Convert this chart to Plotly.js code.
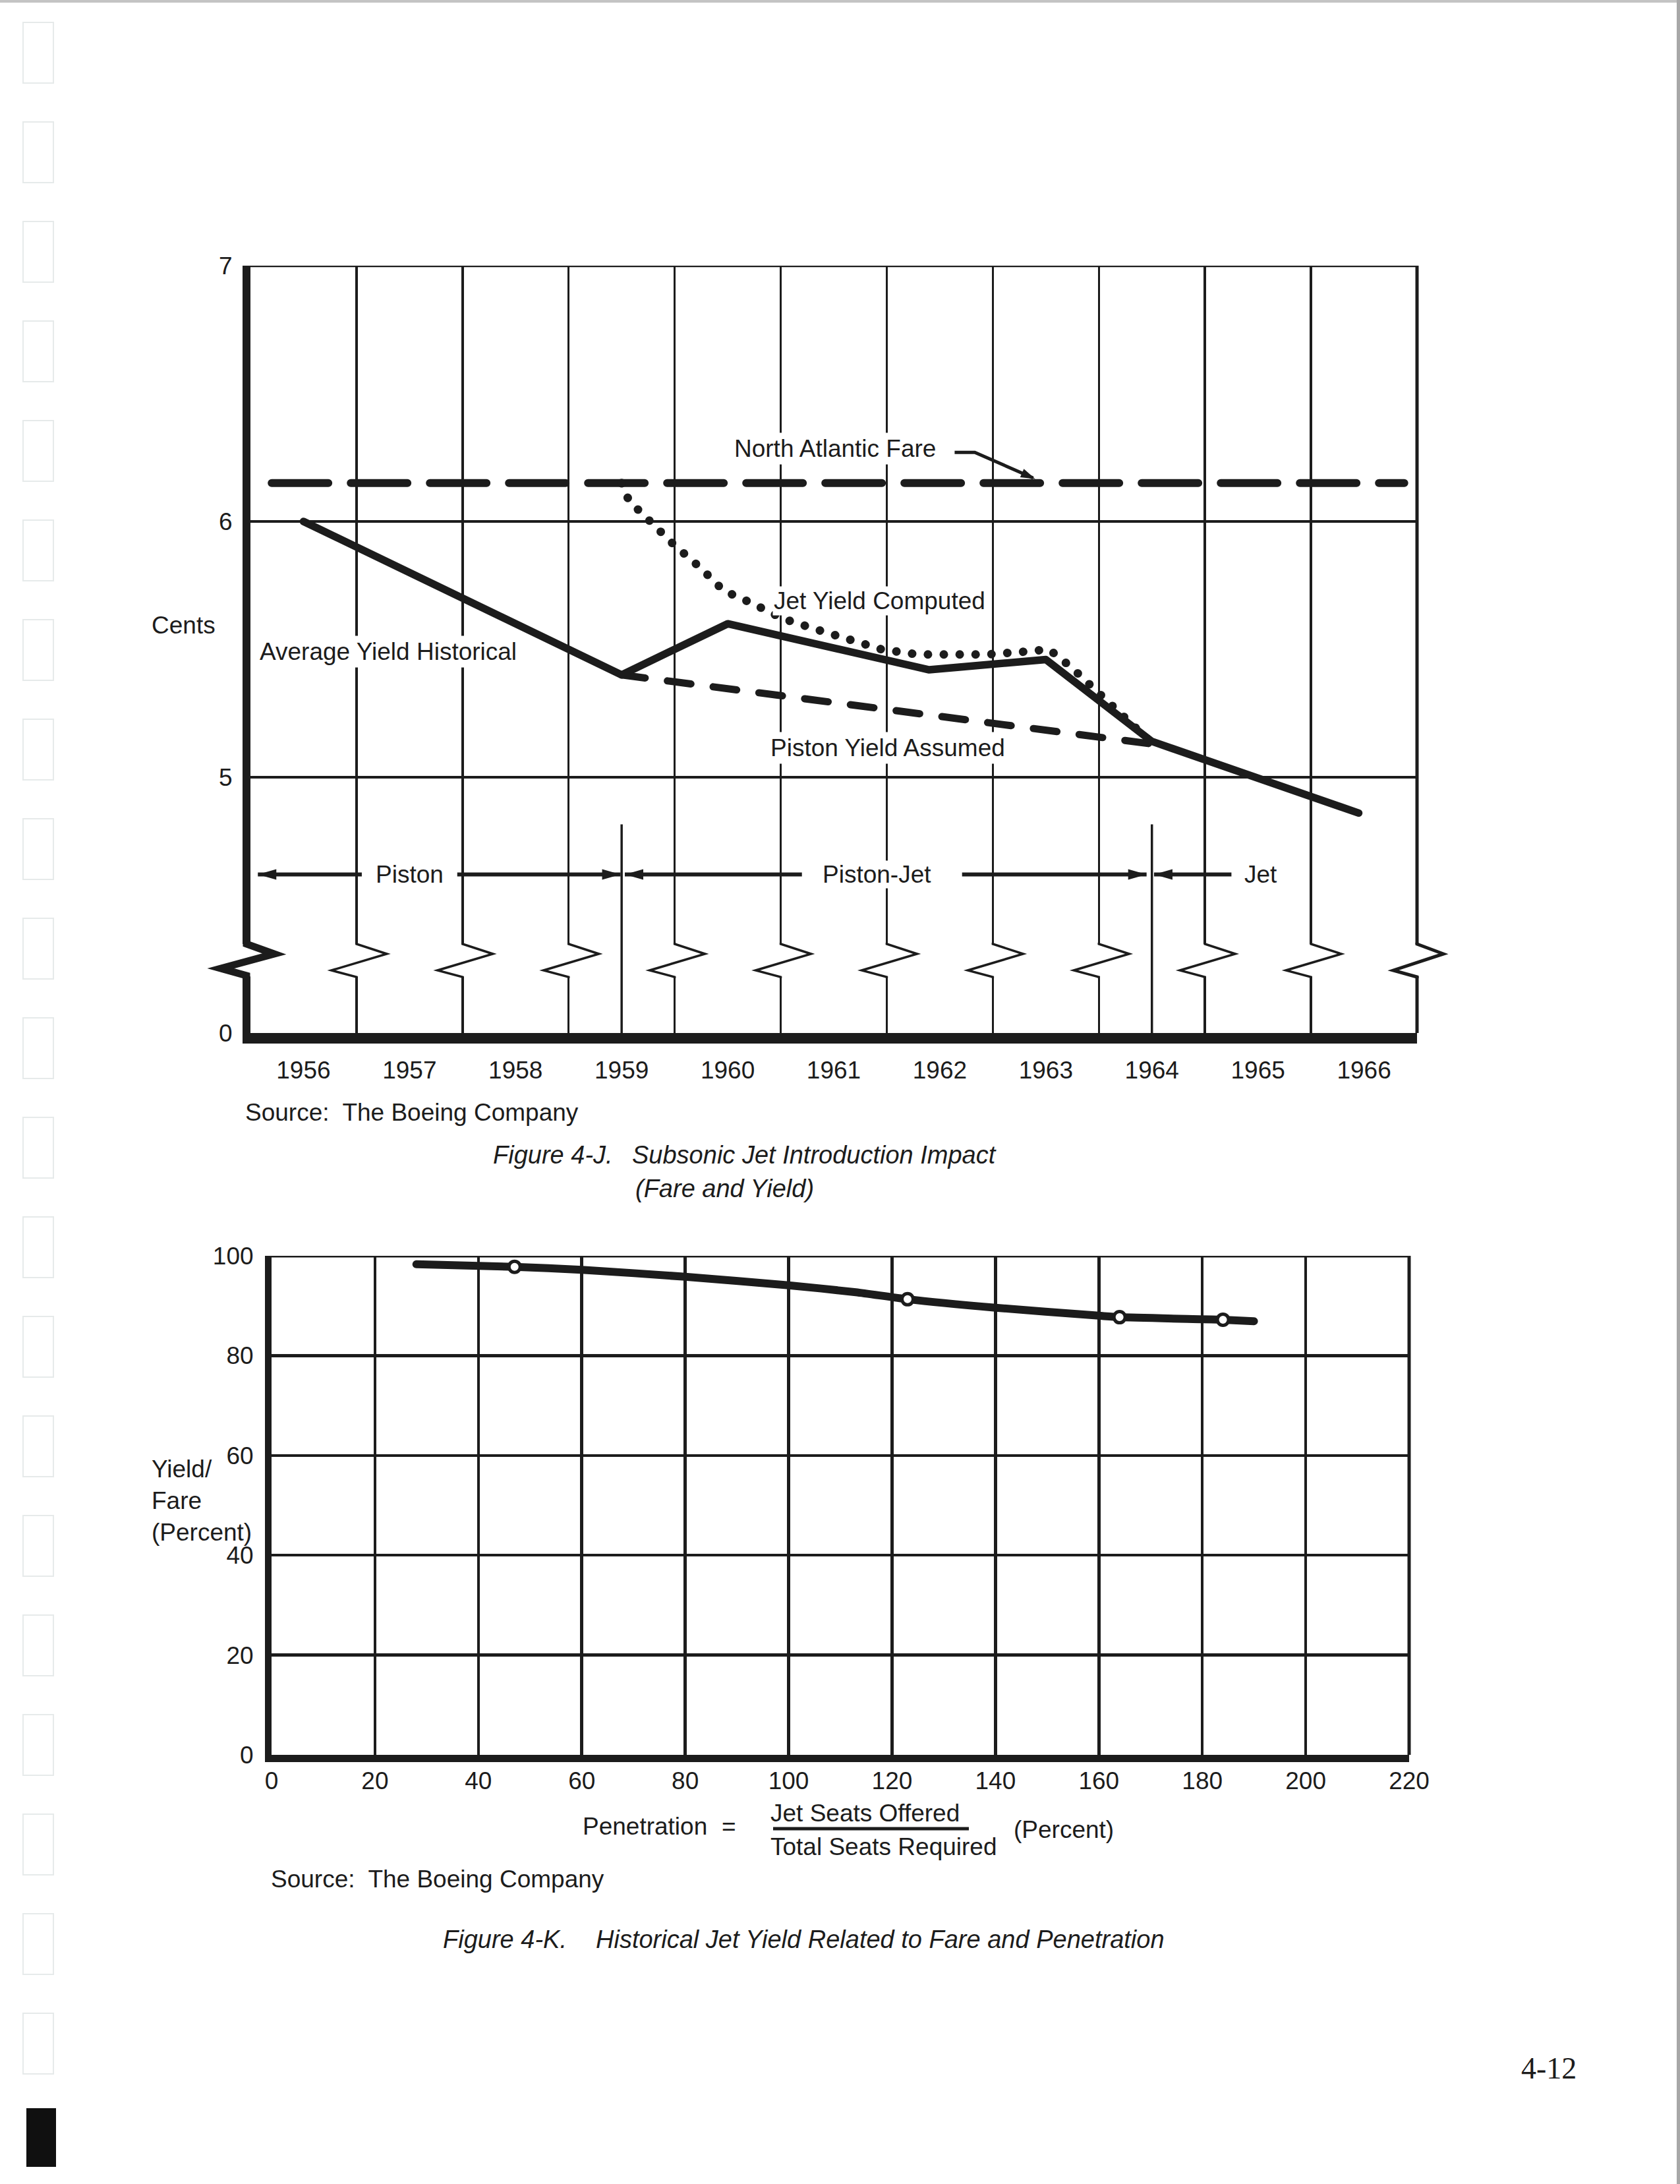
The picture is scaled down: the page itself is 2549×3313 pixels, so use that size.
<!DOCTYPE html>
<html>
<head>
<meta charset="utf-8">
<script src="https://cdn.plot.ly/plotly-3.0.1.min.js"></script>
<style>
html, body { margin:0; padding:0; background:#ffffff; }
#chart { width:2549px; height:3313px; }
.scatterlayer .js-line { stroke-linecap: round; stroke-linejoin: round; }
</style>
</head>
<body>
<div id="chart"></div>
<script>
// ================= Figure 4-J : Subsonic Jet Introduction Impact =================
const years = [1956, 1957, 1958, 1959, 1960, 1961, 1962, 1963, 1964, 1965, 1966];
const yearLabels = ['1956', '1957', '1958', '1959', '1960', '1961', '1962', '1963', '1964', '1965', '1966'];
// broken cents axis: the value 4 on the scale carries the "0" label
const centsTickVals = [4, 5, 6, 7];
const centsTickText = ['0', '5', '6', '7'];

const fareYears = [1955.7, 1966.38];
const fareCents = [6.15, 6.15];

const avgYieldYears = [1956.0, 1959.0, 1960.0, 1961.9, 1963.0, 1964.0, 1965.95];
const avgYieldCents = [6.00, 5.40, 5.60, 5.42, 5.46, 5.14, 4.86];

const pistonYears = [1959.0, 1964.0];
const pistonCents = [5.40, 5.13];

const jetYears = [1959.0, 1959.07, 1959.27, 1959.49, 1959.74, 1959.96, 1960.23, 1960.52, 1960.82,
                  1961.14, 1961.45, 1961.79, 1962.14, 1962.45, 1962.77, 1963.03, 1963.24, 1963.55, 1963.97];
const jetCents = [6.15, 6.08, 6.00, 5.91, 5.82, 5.73, 5.68, 5.62, 5.58,
                  5.535, 5.50, 5.48, 5.478, 5.48, 5.49, 5.50, 5.43, 5.31, 5.145];

const periodNames = ['Piston', 'Piston-Jet', 'Jet'];
const periodBreaks = [1959, 1964];

// ================= Figure 4-K : Historical Jet Yield vs Penetration =================
const penetration = [28, 47, 60, 80, 100, 113, 123, 140, 160, 164, 180, 184, 190];
const yieldFare = [98.3, 97.8, 97.2, 95.8, 94.1, 92.7, 91.3, 89.6, 88.0, 87.7, 87.3, 87.2, 86.9];
const samplePenetration = [47, 123, 164, 184];
const sampleYieldFare = [97.8, 91.3, 87.7, 87.2];
const penetrationTicks = [0, 20, 40, 60, 80, 100, 120, 140, 160, 180, 200, 220];
const yieldTicks = [0, 20, 40, 60, 80, 100];

// ---------------- layout helpers ----------------
const W = 2549, H = 3313;
const px = x => x / W;
const py = y => 1 - y / H;
const ink = '#1c1c1c';
const FONT = 'Liberation Sans, Arial, Helvetica, sans-serif';

const traces = [
  {x: fareYears, y: fareCents, xaxis: 'x', yaxis: 'y', mode: 'lines',
   line: {color: ink, width: 12, dash: '86px,34px'}, hoverinfo: 'skip'},
  {x: pistonYears, y: pistonCents, xaxis: 'x', yaxis: 'y', mode: 'lines',
   line: {color: ink, width: 11, dash: '36px,34px'}, hoverinfo: 'skip'},
  {x: jetYears, y: jetCents, xaxis: 'x', yaxis: 'y', mode: 'lines',
   line: {color: ink, width: 13, dash: '0.1px,24px'}, hoverinfo: 'skip'},
  {x: avgYieldYears, y: avgYieldCents, xaxis: 'x', yaxis: 'y', mode: 'lines',
   line: {color: ink, width: 11.5}, hoverinfo: 'skip'},
  {x: penetration, y: yieldFare, xaxis: 'x2', yaxis: 'y2', mode: 'lines',
   line: {color: ink, width: 12, shape: 'spline', smoothing: 0.6}, hoverinfo: 'skip'},
  {x: samplePenetration, y: sampleYieldFare, xaxis: 'x2', yaxis: 'y2', mode: 'markers',
   marker: {symbol: 'circle', size: 17, color: '#ffffff', line: {color: ink, width: 5}}, hoverinfo: 'skip'}
];

const shapes = [];
// borders of Figure 4-J (top and right)
shapes.push({type: 'line', xref: 'x domain', yref: 'y', x0: 0, x1: 1, y0: 7, y1: 7, line: {color: ink, width: 4.5}});
shapes.push({type: 'line', xref: 'x domain', yref: 'y domain', x0: 1, x1: 1, y0: 0, y1: 1, line: {color: ink, width: 5}});
// borders of Figure 4-K
shapes.push({type: 'line', xref: 'x2 domain', yref: 'y2', x0: 0, x1: 1, y0: 100, y1: 100, line: {color: ink, width: 5}});
shapes.push({type: 'line', xref: 'x2 domain', yref: 'y2 domain', x0: 1, x1: 1, y0: 0, y1: 1, line: {color: ink, width: 5}});

// axis break band with zigzags
const BREAK_TOP = 4.348, BREAK_BOT = 4.221;
shapes.push({type: 'rect', xref: 'x domain', yref: 'y', x0: -0.009, x1: 1.004, y0: BREAK_BOT, y1: BREAK_TOP,
             fillcolor: '#ffffff', line: {width: 0}});
const zig = 'M0,2 L0,0 L46,-15 L-38,-40 L0,-50 L0,-52';
years.slice(1).forEach(yv => {
  shapes.push({type: 'path', xref: 'x', yref: 'y', xsizemode: 'pixel', ysizemode: 'pixel',
               xanchor: yv - 0.5, yanchor: BREAK_TOP, path: zig, line: {color: ink, width: 3.5}});
});
shapes.push({type: 'path', xref: 'x domain', yref: 'y', xsizemode: 'pixel', ysizemode: 'pixel',
             xanchor: 0, yanchor: BREAK_TOP, path: 'M-6,2 L-6,0 L36,-15 L-45,-37 L-6,-48 L-6,-52',
             line: {color: ink, width: 11}});
shapes.push({type: 'path', xref: 'x domain', yref: 'y', xsizemode: 'pixel', ysizemode: 'pixel',
             xanchor: 1, yanchor: BREAK_TOP, path: 'M0,2 L0,0 L40,-15 L-36,-40 L0,-50 L0,-52',
             line: {color: ink, width: 5}});

// period boundary markers
periodBreaks.forEach(b => {
  shapes.push({type: 'line', xref: 'x', yref: 'y', x0: b, x1: b, y0: 4.0, y1: 4.816, line: {color: ink, width: 3.5}});
});

// period arrows
const ARROW_Y = 4.62;
function seg(a, b) {
  shapes.push({type: 'line', xref: 'x', yref: 'y', x0: a, x1: b, y0: ARROW_Y, y1: ARROW_Y, line: {color: ink, width: 6}});
}
function head(x, dir) {
  shapes.push({type: 'path', xref: 'x', yref: 'y', xsizemode: 'pixel', ysizemode: 'pixel',
               xanchor: x, yanchor: ARROW_Y, path: `M0,0 L${-28 * dir},8 L${-28 * dir},-8 Z`,
               fillcolor: ink, line: {width: 0}});
}
seg(1955.57, 1956.55); head(1955.57, -1);
seg(1957.45, 1958.99); head(1958.99, 1);
seg(1959.03, 1960.70); head(1959.03, -1);
seg(1962.21, 1963.95); head(1963.95, 1);
seg(1964.02, 1964.75); head(1964.02, -1);

// North Atlantic Fare leader
shapes.push({type: 'path', xref: 'x', yref: 'y', path: 'M1962.14,6.27 L1962.33,6.27 L1962.88,6.17',
             line: {color: ink, width: 5}});
shapes.push({type: 'path', xref: 'x', yref: 'y', xsizemode: 'pixel', ysizemode: 'pixel',
             xanchor: 1962.9, yanchor: 6.166, path: 'M0,0 L-17.3,15.3 L-22.9,2.5 Z',
             fillcolor: ink, line: {width: 0}});

// fraction bar in the penetration definition
shapes.push({type: 'line', xref: 'paper', yref: 'paper', x0: px(1173), x1: px(1470), y0: py(2774), y1: py(2774),
             line: {color: ink, width: 5}});

// scan artefacts of the page
for (let k = 0; k < 21; k++) {
  const t = 34 + 151 * k;
  shapes.push({type: 'rect', xref: 'paper', yref: 'paper', x0: px(35), x1: px(81), y0: py(t + 92), y1: py(t),
               line: {color: '#e6eaea', width: 2}, fillcolor: 'rgba(0,0,0,0)'});
}
shapes.push({type: 'rect', xref: 'paper', yref: 'paper', x0: px(40), x1: px(85), y0: py(3287), y1: py(3198),
             fillcolor: '#101010', line: {width: 0}});
shapes.push({type: 'rect', xref: 'paper', yref: 'paper', x0: 0, x1: 1, y0: py(4), y1: 1,
             fillcolor: '#c4c4c4', line: {width: 0}});
shapes.push({type: 'rect', xref: 'paper', yref: 'paper', x0: px(2544), x1: 1, y0: 0, y1: 1,
             fillcolor: '#a8a8a8', line: {width: 0}});

// ---------------- annotations ----------------
function note(text, x, y, opts) {
  return Object.assign({text: text, x: px(x), y: py(y), xref: 'paper', yref: 'paper', showarrow: false,
                        xanchor: 'left', yanchor: 'middle', font: {family: FONT, size: 37, color: ink}}, opts || {});
}
function plotNote(text, x, y, opts) {
  return Object.assign({text: text, x: x, y: y, xref: 'x', yref: 'y', showarrow: false,
                        xanchor: 'center', yanchor: 'middle', bgcolor: '#ffffff', borderpad: 3,
                        font: {family: FONT, size: 37, color: ink}}, opts || {});
}
const capFont = {family: FONT, size: 38, color: ink};

const annotations = [
  plotNote('North Atlantic Fare', 1961.01, 6.286),
  plotNote('Jet Yield Computed', 1961.43, 5.69, {borderpad: 1}),
  plotNote('Average Yield Historical', 1956.80, 5.49),
  plotNote('Piston Yield Assumed', 1961.51, 5.115),
  plotNote(periodNames[0], 1957.0, ARROW_Y, {borderpad: 0}),
  plotNote(periodNames[1], 1961.41, ARROW_Y, {borderpad: 0}),
  plotNote(periodNames[2], 1965.03, ARROW_Y, {borderpad: 0}),
  note('Cents', 278, 948, {xanchor: 'center'}),
  note('Source:&nbsp; The Boeing Company', 370, 1687),
  note('<i>Figure 4-J.</i>', 746, 1752, {font: capFont}),
  note('<i>Subsonic Jet Introduction Impact</i>', 957, 1752, {font: capFont}),
  note('<i>(Fare and Yield)</i>', 962, 1803, {font: capFont}),
  note('Yield/<br>Fare<br>(Percent)', 228, 2276, {align: 'left'}),
  note('Penetration', 882, 2770),
  note('=', 1106, 2770, {xanchor: 'center'}),
  note('Jet Seats Offered', 1167, 2750),
  note('Total Seats Required', 1167, 2801),
  note('(Percent)', 1536, 2775),
  note('Source:&nbsp; The Boeing Company', 409, 2850),
  note('<i>Figure 4-K.</i>', 670, 2942, {font: capFont}),
  note('<i>Historical Jet Yield Related to Fare and Penetration</i>', 902, 2942, {font: capFont}),
  note('4-12', 2350, 3137, {xanchor: 'center', font: {family: 'Liberation Serif, Times New Roman, serif', size: 46, color: ink}})
];

const tickFont = {family: FONT, size: 37, color: ink};

const layout = {
  width: W, height: H,
  margin: {l: 0, r: 0, t: 0, b: 0, pad: 0},
  paper_bgcolor: '#ffffff', plot_bgcolor: 'rgba(0,0,0,0)',
  showlegend: false,
  font: {family: FONT, size: 37, color: ink},
  xaxis: {
    domain: [px(380), px(2150)], range: [1955.5, 1966.5], anchor: 'y',
    tickmode: 'array', tickvals: years, ticktext: yearLabels, ticks: '',
    showgrid: false, zeroline: false, showline: true, linecolor: ink, linewidth: 16,
    tickfont: tickFont, ticklabelstandoff: 9,
    minor: {tickmode: 'array', tickvals: years.map(v => v - 0.5).concat([1966.5]), showgrid: true,
            gridcolor: ink, gridwidth: 3.5, ticks: ''},
    fixedrange: true
  },
  yaxis: {
    domain: [py(1567), py(403)], range: [4, 7], anchor: 'x',
    tickmode: 'array', tickvals: centsTickVals, ticktext: centsTickText, ticks: '',
    showgrid: true, gridcolor: ink, gridwidth: 3.5, zeroline: false,
    showline: true, linecolor: ink, linewidth: 12,
    tickfont: tickFont, ticklabelstandoff: 8, fixedrange: true
  },
  xaxis2: {
    domain: [px(412), px(2138)], range: [0, 220], anchor: 'y2',
    tickmode: 'array', tickvals: penetrationTicks, ticks: '',
    showgrid: true, gridcolor: ink, gridwidth: 4.5, zeroline: false,
    showline: true, linecolor: ink, linewidth: 11,
    tickfont: tickFont, ticklabelstandoff: -3, fixedrange: true
  },
  yaxis2: {
    domain: [py(2662), py(1905)], range: [0, 100], anchor: 'x2',
    tickmode: 'array', tickvals: yieldTicks, ticks: '',
    showgrid: true, gridcolor: ink, gridwidth: 4.5, zeroline: false,
    showline: true, linecolor: ink, linewidth: 10,
    tickfont: tickFont, ticklabelstandoff: 10, fixedrange: true
  },
  shapes: shapes,
  annotations: annotations
};

Plotly.newPlot('chart', traces, layout, {staticPlot: true, displayModeBar: false});
</script>
</body>
</html>
